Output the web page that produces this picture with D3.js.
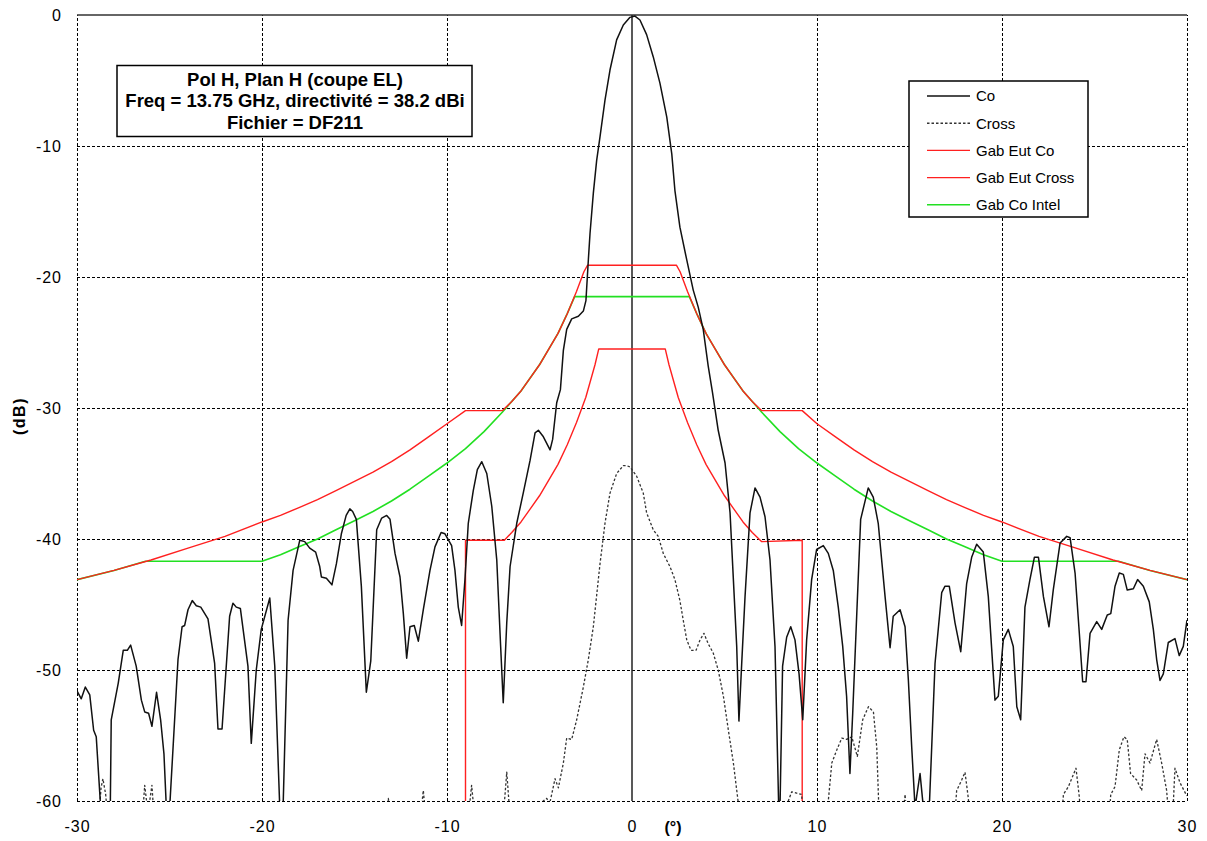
<!DOCTYPE html>
<html>
<head>
<meta charset="utf-8">
<script src="https://cdn.jsdelivr.net/npm/d3@7"></script>
<style>
  html, body { margin: 0; padding: 0; background: #fff; }
  svg { display: block; font-family: "Liberation Sans", Arial, sans-serif; }
</style>
</head>
<body>
<svg id="chart" width="1207" height="841"></svg>
<script>
// ---------------- DATA ----------------
const xTicks = [-30, -20, -10, 0, 10, 20, 30];
const yTicks = [0, -10, -20, -30, -40, -50, -60];

const titleLines = ["Pol H, Plan H (coupe EL)", "Freq = 13.75 GHz, directivité = 38.2 dBi", "Fichier = DF211"];
const legendLabels = ["Co", "Cross", "Gab Eut Co", "Gab Eut Cross", "Gab Co Intel"];

// Co (co-polar) measured pattern
const coAngle = [-30.0,-29.77,-29.55,-29.31,-29.1,-28.96,-28.72,-28.2,-28.15,-27.77,-27.5,-27.28,-27.1,-26.8,-26.52,-26.34,-26.13,-25.95,-25.7,-25.48,-25.3,-25.17,-24.99,-24.54,-24.32,-24.18,-24.0,-23.77,-23.55,-23.31,-22.92,-22.56,-22.38,-22.16,-21.75,-21.57,-21.39,-21.17,-20.76,-20.58,-20.31,-20.04,-19.58,-19.31,-19.04,-18.86,-18.59,-18.32,-17.96,-17.69,-17.42,-17.1,-16.88,-16.79,-16.52,-16.22,-15.98,-15.71,-15.45,-15.25,-15.1,-14.9,-14.63,-14.36,-14.12,-13.8,-13.53,-13.26,-13.08,-12.81,-12.54,-12.36,-12.18,-12.0,-11.77,-11.55,-11.28,-10.92,-10.65,-10.32,-10.11,-9.75,-9.57,-9.39,-9.21,-9.03,-8.85,-8.58,-8.36,-8.12,-7.85,-7.58,-7.31,-7.1,-6.96,-6.77,-6.59,-6.23,-5.88,-5.51,-5.24,-5.06,-4.79,-4.43,-4.29,-4.07,-3.87,-3.71,-3.53,-3.26,-2.9,-2.63,-2.49,-2.36,-2.27,-2.09,-1.91,-1.73,-1.46,-1.19,-0.83,-0.47,-0.11,0.16,0.43,0.79,1.15,1.51,1.88,2.15,2.32,2.59,2.96,3.31,3.58,3.85,4.12,4.35,4.66,5.03,5.3,5.48,5.66,5.78,5.93,6.11,6.38,6.65,6.92,7.19,7.46,7.73,7.93,8.0,8.14,8.36,8.58,8.81,9.03,9.23,9.44,9.71,9.98,10.34,10.61,10.88,11.15,11.39,11.6,11.78,11.93,12.15,12.36,12.77,13.04,13.31,13.68,13.95,14.12,14.49,14.76,14.94,15.12,15.3,15.57,15.75,16.07,16.38,16.74,16.92,17.15,17.46,17.77,18.09,18.36,18.63,18.99,19.26,19.62,19.8,20.07,20.34,20.61,20.8,21.01,21.24,21.51,21.75,21.97,22.24,22.54,22.77,23.14,23.5,23.68,23.95,24.18,24.36,24.54,24.76,25.12,25.39,25.69,25.88,26.11,26.34,26.56,26.77,27.1,27.33,27.64,27.96,28.18,28.36,28.54,28.72,28.99,29.35,29.58,29.8,30.0];
const coDb = [-51.6,-52.2,-51.3,-51.9,-54.6,-55.1,-60.5,-60.5,-53.8,-51.0,-48.5,-48.5,-48.1,-49.7,-52.3,-53.2,-53.3,-54.3,-51.7,-53.8,-56.4,-60.5,-60.5,-49.2,-46.7,-46.6,-45.4,-44.7,-45.1,-45.2,-46.1,-49.5,-54.5,-54.5,-45.9,-44.9,-45.2,-45.3,-49.7,-55.6,-50.0,-46.9,-44.5,-49.7,-60.5,-60.5,-46.2,-42.4,-40.1,-40.2,-40.7,-41.0,-42.1,-42.9,-43.0,-43.5,-41.9,-39.6,-38.2,-37.7,-37.9,-38.5,-43.6,-51.7,-49.3,-39.3,-38.4,-38.2,-38.5,-41.1,-42.9,-45.7,-49.1,-46.7,-46.6,-47.8,-45.4,-42.4,-40.6,-39.5,-39.6,-40.5,-42.4,-45.2,-46.6,-43.1,-38.8,-36.3,-34.7,-34.1,-35.0,-37.5,-41.6,-48.2,-52.5,-46.4,-42.1,-38.8,-36.5,-34.0,-31.9,-31.7,-32.2,-33.2,-32.4,-29.6,-28.6,-25.6,-24.0,-23.2,-23.0,-22.6,-21.8,-18.7,-16.7,-13.6,-11.1,-9.3,-6.5,-4.2,-1.9,-0.76,-0.18,-0.08,-0.38,-1.5,-3.2,-5.2,-7.8,-10.6,-13.4,-16.2,-18.7,-21.0,-22.3,-24.0,-26.8,-28.8,-31.7,-34.2,-38.0,-43.1,-48.2,-53.9,-49.5,-44.4,-38.0,-36.1,-36.8,-38.3,-41.6,-48.2,-60.5,-60.5,-49.7,-47.5,-46.7,-47.7,-50.3,-53.8,-47.7,-43.1,-40.8,-40.5,-41.1,-42.4,-45.2,-48.2,-52.0,-57.9,-53.3,-45.7,-38.5,-36.1,-36.8,-38.8,-44.4,-48.3,-45.9,-45.4,-46.7,-50.8,-55.9,-60.5,-57.9,-60.5,-60.5,-49.5,-44.1,-43.6,-43.6,-46.4,-48.6,-43.4,-41.4,-40.4,-41.0,-44.4,-52.3,-52.0,-47.7,-46.9,-48.2,-52.8,-53.8,-45.2,-43.1,-41.4,-41.4,-44.4,-46.7,-43.9,-40.3,-39.8,-39.9,-42.6,-47.2,-50.9,-50.9,-47.2,-46.3,-46.9,-45.8,-45.7,-43.6,-42.6,-42.7,-43.9,-43.8,-43.1,-43.6,-44.8,-46.9,-49.2,-50.8,-50.3,-47.9,-47.6,-48.9,-48.2,-46.2];

// Cross (cross-polar) measured pattern
const crossAngle = [-30,-28.85,-28.7,-28.6,-28.45,-28.3,-26.5,-26.34,-26.2,-26.1,-25.95,-25.8,-13.4,-13.17,-13.0,-11.5,-11.28,-11.1,-8.9,-8.67,-8.45,-7.0,-6.77,-6.55,-5.1,-4.8,-4.61,-4.45,-4.16,-3.98,-3.71,-3.53,-3.26,-2.99,-2.63,-2.36,-2.09,-1.73,-1.46,-1.19,-0.83,-0.47,-0.29,-0.11,0.25,0.61,0.79,1.15,1.42,1.69,2.05,2.32,2.59,2.77,2.96,3.19,3.46,3.68,3.89,4.12,4.39,4.66,4.94,5.21,5.48,5.75,5.9,8.3,8.45,8.63,8.9,9.17,9.3,10.5,10.61,10.8,11.07,11.34,11.6,11.88,12.18,12.47,12.78,13.05,13.23,13.33,13.45,14.6,14.76,14.9,17.4,17.55,17.82,18.0,18.18,18.3,23.2,23.32,23.59,24.0,24.18,24.3,25.75,25.88,26.11,26.34,26.59,26.77,26.95,27.28,27.55,27.73,28.0,28.36,28.63,28.9,29.05,29.2,29.35,29.62,29.95,30];
const crossDb = [-62,-62,-59.0,-58.3,-59.5,-62,-62,-58.8,-60.5,-60.3,-58.8,-62,-62,-59.8,-62,-62,-59.2,-62,-62,-58.8,-62,-62,-57.8,-62,-62,-60,-59.8,-60.2,-58.3,-59.0,-57.1,-55.2,-55.3,-53.8,-51.3,-49.2,-46.7,-41.9,-38.8,-36.5,-35.0,-34.4,-34.4,-34.5,-35.2,-36.5,-38.0,-39.3,-39.8,-41.1,-42.1,-43.1,-44.7,-46.2,-47.7,-48.5,-48.5,-47.7,-47.2,-48.0,-48.7,-50.0,-52.0,-54.6,-57.1,-60.2,-62,-62,-60,-59.3,-59.4,-59.5,-62,-62,-60,-57.1,-56.1,-55.2,-55.3,-55.1,-56.6,-53.8,-52.8,-53.2,-55.9,-60,-62,-62,-59.5,-62,-62,-59.2,-58.4,-57.8,-59.8,-62,-62,-59.5,-58.9,-57.5,-59.7,-62,-62,-59.5,-58.9,-56.1,-55.1,-55.3,-57.9,-58.4,-59.2,-56.4,-57.1,-55.3,-57.1,-59.2,-62,-62,-57.5,-58.6,-59.5,-59.6];

// Gab Eut Co (upper red mask)
const eutCoAngle = [-30,-28,-26,-24,-22,-20,-19,-18,-17,-16,-15,-14,-13,-12,-11,-10,-9,-7,-6.5,-6,-5.5,-5,-4.5,-4,-3.5,-3,-2.6,-2.4,2.4,2.6,3,3.5,4,4.5,5,5.5,6,6.5,7,9.2,10,11,12,13,14,15,16,17,18,19,20,22,24,26,28,30];
const eutCoDb = [-43.1,-42.4,-41.6,-40.7,-39.8,-38.7,-38.2,-37.6,-37.0,-36.3,-35.6,-34.9,-34.1,-33.2,-32.2,-31.2,-30.2,-30.2,-29.5,-28.7,-27.7,-26.7,-25.5,-24.3,-22.8,-21.1,-19.6,-19.1,-19.1,-19.6,-21.1,-22.8,-24.3,-25.5,-26.7,-27.7,-28.7,-29.5,-30.2,-30.2,-31.2,-32.2,-33.2,-34.1,-34.9,-35.6,-36.3,-37.0,-37.6,-38.2,-38.7,-39.8,-40.7,-41.6,-42.4,-43.1];

// Gab Eut Cross (lower red mask)
const eutCrossAngle = [-9.0,-9.0,-6.9,-6.5,-6,-5.5,-5,-4.5,-4,-3.5,-3,-2.5,-2,-1.8,1.8,2,2.5,3,3.5,4,4.5,5,5.5,6,6.5,7.0,9.2,9.2];
const eutCrossDb = [-60,-40.1,-40.1,-39.5,-38.7,-37.7,-36.7,-35.5,-34.3,-32.8,-31.1,-29.2,-26.7,-25.5,-25.5,-26.7,-29.2,-31.1,-32.8,-34.3,-35.5,-36.7,-37.7,-38.7,-39.5,-40.2,-40.1,-60];

// Gab Co Intel (green mask)
const intelAngle = [-30,-28,-26.3,-20,-19,-18,-17,-16,-15,-14,-13,-12,-11,-10,-9,-8,-7,-6,-5,-4.5,-4,-3.5,-3.1,3.1,3.5,4,4.5,5,6,7,8,9,10,11,12,13,14,15,16,17,18,19,20,26.3,28,30];
const intelDb = [-43.1,-42.4,-41.7,-41.7,-41.2,-40.6,-40.0,-39.3,-38.6,-37.9,-37.1,-36.2,-35.2,-34.2,-33.1,-31.8,-30.3,-28.7,-26.7,-25.5,-24.3,-22.8,-21.5,-21.5,-22.8,-24.3,-25.5,-26.7,-28.7,-30.3,-31.8,-33.1,-34.2,-35.2,-36.2,-37.1,-37.9,-38.6,-39.3,-40.0,-40.6,-41.2,-41.7,-41.7,-42.4,-43.1];

// ---------------- DRAW ----------------
const svg = d3.select("#chart");
const L = 77, R = 1187, T = 15, B = 801;
const x = d3.scaleLinear().domain([-30, 30]).range([L, R]);
const y = d3.scaleLinear().domain([-60, 0]).range([B, T]);
const fmt = d => String(d);

svg.append("defs").append("clipPath").attr("id", "plotclip")
  .append("rect").attr("x", L).attr("y", T - 2).attr("width", R - L).attr("height", B - T + 2);

// gridlines (dashed)
const gridY = svg.append("g").attr("transform", `translate(${L},0)`)
  .call(d3.axisLeft(y).tickValues(yTicks.filter(v => v !== 0)).tickSize(-(R - L)).tickFormat(""));
gridY.select(".domain").remove();
gridY.selectAll("line").attr("stroke", "#000").attr("stroke-width", 1).attr("stroke-dasharray", "3,2");

const gridX = svg.append("g").attr("transform", `translate(0,${B})`)
  .call(d3.axisBottom(x).tickValues(xTicks.filter(v => v !== 0)).tickSize(-(B - T)).tickFormat(""));
gridX.select(".domain").remove();
gridX.selectAll("line").attr("stroke", "#000").attr("stroke-width", 1).attr("stroke-dasharray", "3,2");

// axes crossing lines (solid): horizontal at 0 dB (top), vertical at 0°
svg.append("line").attr("x1", L).attr("x2", R).attr("y1", y(0)).attr("y2", y(0))
  .attr("stroke", "#333").attr("stroke-width", 1.5);
svg.append("line").attr("x1", x(0)).attr("x2", x(0)).attr("y1", T).attr("y2", B)
  .attr("stroke", "#222").attr("stroke-width", 1.5);

// tick labels via axes
const axL = svg.append("g").attr("transform", `translate(${L},0)`)
  .call(d3.axisLeft(y).tickValues(yTicks).tickSize(0).tickPadding(15).tickFormat(fmt));
axL.select(".domain").remove();
axL.selectAll("text").attr("font-size", 16).attr("letter-spacing", 1).attr("fill", "#000")
  .attr("font-family", "Liberation Sans, Arial, sans-serif");

const axB = svg.append("g").attr("transform", `translate(0,${B})`)
  .call(d3.axisBottom(x).tickValues(xTicks).tickSize(0).tickPadding(20).tickFormat(fmt));
axB.select(".domain").remove();
axB.selectAll("text").attr("font-size", 16).attr("letter-spacing", 1).attr("fill", "#000")
  .attr("font-family", "Liberation Sans, Arial, sans-serif");

// axis titles
svg.append("text").attr("x", 673).attr("y", 833).attr("text-anchor", "middle")
  .attr("font-size", 16).attr("font-weight", "bold").text("(°)");
svg.append("text").attr("transform", `translate(25,416) rotate(-90)`)
  .attr("text-anchor", "middle").attr("font-size", 16).attr("letter-spacing", 1.5)
  .attr("font-weight", "bold").text("(dB)");

// series
const plot = svg.append("g").attr("clip-path", "url(#plotclip)");
const line = d3.line().x(d => x(d[0])).y(d => y(d[1]));
const zip = (a, b) => a.map((v, i) => [v, b[i]]);

const series = [
  { name: "Gab Co Intel", data: zip(intelAngle, intelDb), color: "#22e022", width: 1.6, dash: null },
  { name: "Gab Eut Co", data: zip(eutCoAngle, eutCoDb), color: "#ff2020", width: 1.4, dash: null },
  { name: "Gab Eut Cross", data: zip(eutCrossAngle, eutCrossDb), color: "#ff2020", width: 1.4, dash: null },
  { name: "Cross", data: zip(crossAngle, crossDb), color: "#333", width: 1.3, dash: "2.5,2" },
  { name: "Co", data: zip(coAngle, coDb), color: "#111", width: 1.5, dash: null },
];
series.forEach(s => {
  plot.append("path").datum(s.data).attr("d", line)
    .attr("fill", "none").attr("stroke", s.color).attr("stroke-width", s.width)
    .attr("stroke-linejoin", "round")
    .attr("stroke-dasharray", s.dash);
});

// title box
const tb = svg.append("g");
tb.append("rect").attr("x", 117).attr("y", 65.5).attr("width", 355).attr("height", 71)
  .attr("fill", "#fff").attr("stroke", "#000").attr("stroke-width", 1.5);
titleLines.forEach((t, i) => {
  tb.append("text").attr("x", 295).attr("y", 85.5 + i * 21.5).attr("text-anchor", "middle")
    .attr("font-size", 18.5).attr("font-weight", "bold").text(t);
});

// legend
const legendColors = ["#111", "#333", "#ff2020", "#ff2020", "#22e022"];
const legendDash = [null, "2.5,2", null, null, null];
const lg = svg.append("g");
lg.append("rect").attr("x", 909).attr("y", 81).attr("width", 179).attr("height", 136)
  .attr("fill", "#fff").attr("stroke", "#000").attr("stroke-width", 1.5);
legendLabels.forEach((t, i) => {
  const yy = 96 + i * 27.2;
  lg.append("line").attr("x1", 927).attr("x2", 970).attr("y1", yy).attr("y2", yy)
    .attr("stroke", legendColors[i]).attr("stroke-width", 1.4).attr("stroke-dasharray", legendDash[i]);
  lg.append("text").attr("x", 976).attr("y", yy + 5.4).attr("font-size", 15).text(t);
});
</script>
</body>
</html>
